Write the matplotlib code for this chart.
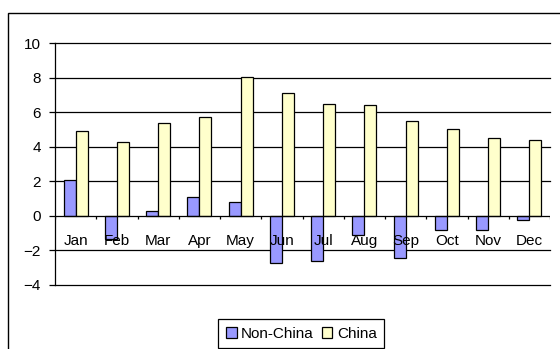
import matplotlib
matplotlib.use('Agg')
import matplotlib.pyplot as plt
from matplotlib.patches import Patch, Rectangle
import numpy as np

months = ['Jan', 'Feb', 'Mar', 'Apr', 'May', 'Jun', 'Jul', 'Aug', 'Sep', 'Oct', 'Nov', 'Dec']
non_china = [2.1, -1.35, 0.3, 1.1, 0.8, -2.7, -2.6, -1.1, -2.45, -0.8, -0.8, -0.25]
china = [4.9, 4.3, 5.35, 5.7, 8.05, 7.1, 6.5, 6.4, 5.5, 5.0, 4.5, 4.4]

plt.rcParams['font.family'] = 'Liberation Sans'
W, H = 560, 349
fig = plt.figure(figsize=(W / 100, H / 100), dpi=100, facecolor='white')
ax = fig.add_axes([55 / W, 1 - 285 / H, 495 / W, 242 / H])

x = np.arange(len(months))
bw = 0.29
ax.bar(x - bw / 2, non_china, bw, color='#9999FF', edgecolor='black', linewidth=0.9, zorder=3)
ax.bar(x + bw / 2, china, bw, color='#FFFFCC', edgecolor='black', linewidth=0.9, zorder=3)

ax.set_xlim(-0.5, 11.5)
ax.set_ylim(-4, 10)
ax.set_yticks(range(-4, 11, 2))
for v in range(-4, 11, 2):
    if v != 0:
        ax.axhline(v, color='black', linewidth=0.9, zorder=1, clip_on=False)

for s in ['top', 'right']:
    ax.spines[s].set_visible(False)
ax.spines['bottom'].set_visible(False)
ax.spines['left'].set_linewidth(0.9)
ax.axhline(0, color='black', linewidth=0.9, zorder=4)

# month ticks at zero line
ax.set_xticks(x)
ax.set_xticklabels([])
ax.tick_params(axis='x', length=0)
ax.vlines(np.arange(-0.5, 12, 1), -0.2, 0, color='black', linewidth=0.9, zorder=4)
for i, m in enumerate(months):
    ax.text(i, -1.45, m, ha='center', va='center', fontsize=11, zorder=5)

ax.tick_params(axis='y', direction='out', length=4, width=0.9, labelsize=11, pad=6)

# outer chart border
fig.patches.append(Rectangle((7.5 / W, -0.1), 1.2, 1 - 13.5 / H + 0.1,
                             transform=fig.transFigure, fill=False,
                             edgecolor='black', linewidth=1.0))

handles = [Patch(facecolor='#9999FF', edgecolor='black', linewidth=0.9, label='Non-China'),
           Patch(facecolor='#FFFFCC', edgecolor='black', linewidth=0.9, label='China')]
leg = fig.legend(handles=handles, loc='center', bbox_to_anchor=(0.538, 0.044),
                 bbox_transform=fig.transFigure, ncol=2, fontsize=11, fancybox=False,
                 framealpha=1, edgecolor='black', handlelength=0.7, handleheight=0.7,
                 handletextpad=0.3, columnspacing=0.5, borderpad=0.5, borderaxespad=0)
leg.get_frame().set_linewidth(0.9)

fig.savefig('out.png', dpi=100)
